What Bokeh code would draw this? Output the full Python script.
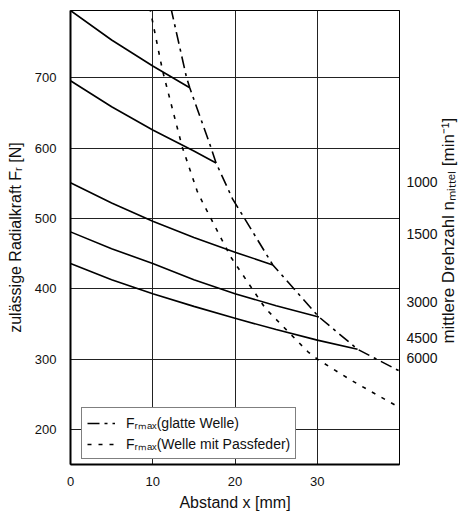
from bokeh.plotting import figure
from bokeh.models import (LinearAxis, FixedTicker, Range1d, Legend, LegendItem)
from bokeh.embed import file_html
from bokeh.resources import INLINE
import math

# --- data ---
# permissible radial force curves (solid), one per mean speed
x_1000 = [0, 5, 10, 14.5]
f_1000 = [796, 754, 717, 686]
x_1500 = [0, 5, 10, 15, 17.7]
f_1500 = [696, 659, 626, 596, 579]
x_3000 = [0, 5, 10, 15, 20, 24.6]
f_3000 = [551, 522, 496, 473, 452, 434]
x_4500 = [0, 5, 10, 15, 20, 25, 30.2]
f_4500 = [481, 457, 436, 413, 393, 376, 360]
x_6000 = [0, 5, 10, 15, 20, 25, 30, 34.9]
f_6000 = [436, 413, 393, 375, 358, 342, 327, 314]

# F_rmax (glatte Welle)
x_glatt = [12.2, 14.1, 14.5, 16.9, 17.7, 19.7, 24.6, 30.2, 34.9, 40]
f_glatt = [800, 701, 686, 607, 579, 528, 434, 360, 314, 283]
# F_rmax (Welle mit Passfeder)
x_pass = [9.64, 11.2, 13.58, 15.4, 16.06, 19.5, 23.7, 28.9, 30, 34.1, 40]
f_pass = [800, 710, 602, 539, 523, 445, 372, 310, 300, 270, 231]

x_ticks = [0, 10, 20, 30]
y_ticks = [200, 300, 400, 500, 600, 700]
speed_labels = ["1000", "1500", "3000", "4500", "6000"]
speed_pos = [552, 478, 381, 330, 301]
right_title = "mittlere Drehzahl nₘᵢₜₜₑₗ [min⁻¹]"
right_title_start = 322   # y value where the upward-reading title starts

FONT = "Liberation Sans"

p = figure(width=470, height=513, x_range=Range1d(0, 40), y_range=Range1d(150, 796),
           output_backend="svg", toolbar_location=None,
           min_border_left=70, min_border_right=69, min_border_top=10, min_border_bottom=47)
p.background_fill_color = "white"
p.border_fill_color = "white"
p.outline_line_color = "black"
p.outline_line_width = 1

# grid
p.xgrid.ticker = FixedTicker(ticks=[10, 20, 30])
p.ygrid.ticker = FixedTicker(ticks=y_ticks)
for g in (p.xgrid, p.ygrid):
    g.grid_line_color = "#222222"
    g.grid_line_width = 1

# axes
for ax in (p.xaxis[0], p.yaxis[0]):
    ax.major_tick_line_color = None
    ax.minor_tick_line_color = None
    ax.axis_line_color = "black"
    ax.axis_line_width = 2
    ax.major_label_text_font = FONT
    ax.major_label_text_font_size = "13px"
    ax.major_label_text_color = "#111111"
    ax.axis_label_text_font = FONT
    ax.axis_label_text_font_size = "16px"
    ax.axis_label_text_font_style = "normal"
    ax.axis_label_text_color = "#111111"

p.xaxis.ticker = FixedTicker(ticks=x_ticks)
p.xaxis.axis_label = "Abstand x [mm]"
p.xaxis.major_label_standoff = 6
p.xaxis.axis_label_standoff = 5

p.yaxis.ticker = FixedTicker(ticks=y_ticks)
p.yaxis.axis_label = "zulässige Radialkraft Fᵣ [N]"
p.yaxis.major_label_standoff = 8
p.yaxis.axis_label_standoff = 8

right = LinearAxis(ticker=FixedTicker(ticks=speed_pos),
                   major_label_overrides={pos: lab for pos, lab in zip(speed_pos, speed_labels)})
right.major_tick_line_color = None
right.minor_tick_line_color = None
right.axis_line_color = "black"
right.axis_line_width = 1
right.major_label_standoff = 1
right.major_label_text_font = FONT
right.major_label_text_font_size = "14px"
right.major_label_text_color = "#111111"
p.add_layout(right, "right")

# right-hand title (reads bottom to top) as a single rotated label on an outer axis
right_t = LinearAxis(ticker=FixedTicker(ticks=[right_title_start]),
                     major_label_overrides={right_title_start: right_title})
right_t.major_tick_line_color = None
right_t.minor_tick_line_color = None
right_t.axis_line_color = None
right_t.major_label_standoff = 2
right_t.major_label_orientation = math.pi / 2
right_t.major_label_text_font = FONT
right_t.major_label_text_font_size = "17px"
right_t.major_label_text_color = "#111111"
p.add_layout(right_t, "right")

# curves
for xs, fs in ((x_1000, f_1000), (x_1500, f_1500), (x_3000, f_3000),
               (x_4500, f_4500), (x_6000, f_6000)):
    p.line(xs, fs, line_color="black", line_width=1.6)

r_glatt = p.line(x_glatt, f_glatt, line_color="black", line_width=1.6, line_dash="12 5 3 5")
r_pass = p.line(x_pass, f_pass, line_color="black", line_width=1.6, line_dash="4 7")

legend = Legend(items=[LegendItem(label="Fᵣₘₐₓ(glatte Welle)", renderers=[r_glatt]),
                       LegendItem(label="Fᵣₘₐₓ(Welle mit Passfeder)", renderers=[r_pass])],
                location=(11, 5))
legend.label_text_font = FONT
legend.label_text_font_size = "14px"
legend.label_text_color = "#111111"
legend.glyph_width = 28
legend.glyph_height = 16
legend.label_height = 16
legend.label_standoff = 11
legend.padding = 5
legend.spacing = 2
legend.margin = 0
legend.border_line_color = "black"
legend.border_line_width = 1
legend.background_fill_color = "white"
legend.background_fill_alpha = 1
p.add_layout(legend)

open("out.html", "w").write(file_html(p, INLINE))
